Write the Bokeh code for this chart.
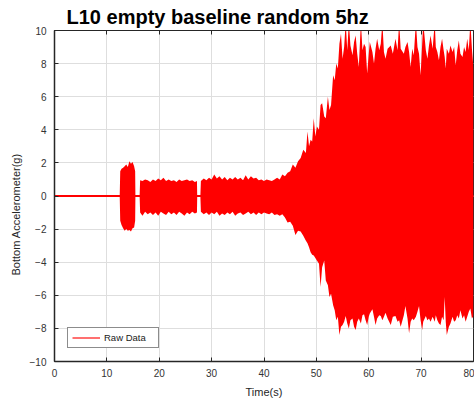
from bokeh.plotting import figure
from bokeh.models import Range1d, LinearAxis, Legend, LegendItem, FixedTicker, CustomJSTickFormatter, Title
from bokeh.embed import file_html
from bokeh.resources import INLINE

# ---- data (envelope of the raw accelerometer record) ----
baseline_t = [0, 80]
baseline_v = [0, 0]

env_t = [12.45, 12.55, 12.8, 13.1, 13.4, 13.7, 14.0, 14.3, 14.6, 14.9, 15.2, 15.4, 15.45,
         16.25, 16.35, 16.8, 17.3, 17.8, 18.3, 18.8, 19.3, 19.8, 20.3, 20.8, 21.3, 21.8, 22.3,
         22.8, 23.3, 23.8, 24.3, 24.8, 25.3, 25.8, 26.3, 26.8, 27.2, 27.25,
         27.85, 27.95, 28.5, 29.0, 29.5, 30.0, 30.5, 31.0, 31.5, 32.0, 32.5, 33.0, 33.5, 34.0,
         34.5, 35.0, 35.5, 36.0, 36.5, 37.0, 37.5, 38.0, 38.5, 39.0, 39.5, 40.0, 40.5, 41.0,
         41.5, 42.0, 42.5, 43.0, 43.5, 44.0, 44.5, 45.0, 45.5, 46.0, 46.5, 47.0, 47.5, 48.0,
         48.3, 48.6, 48.9, 49.2, 49.5, 49.8, 50.1, 50.5, 50.8, 51.1, 51.5, 51.8, 52.2, 52.5,
         52.8, 53.2, 53.5, 53.8, 54.1, 54.4, 54.7, 55.0, 55.3, 55.6, 55.9, 56.2, 56.5, 56.9,
         57.2, 57.5, 57.8, 58.1, 58.5, 58.8, 59.1, 59.4, 59.7, 60.0, 60.2, 60.7, 61.0, 61.3,
         61.6, 62.0, 62.3, 62.6, 62.9, 63.2, 63.6, 64.2, 64.6, 65.1, 65.5, 65.8, 66.1, 66.7,
         67.0, 67.4, 67.7, 68.0, 68.3, 68.6, 69.0, 69.3, 69.6, 69.9, 70.2, 70.4, 70.9, 71.2,
         71.5, 71.8, 72.2, 72.6, 72.8, 73.1, 73.4, 73.7, 74.0, 74.3, 74.5, 74.7, 74.9, 75.3,
         75.6, 76.0, 76.3, 76.6, 76.9, 77.2, 77.5, 77.9, 78.2, 78.5, 78.8, 79.1, 79.4, 79.7, 80.0]

env_upper = [0, 1.5, 1.65, 1.7, 1.8, 1.9, 1.75, 2.1, 1.95, 2.05, 1.8, 1.5, 0,
             0, 0.95, 0.9, 1.0, 0.95, 0.85, 1.0, 0.9, 1.05, 0.95, 1.1, 0.9, 1.0, 0.9,
             0.95, 0.85, 1.0, 0.9, 0.95, 1.0, 0.9, 0.95, 0.85, 0.9, 0,
             0, 0.9, 1.05, 0.95, 1.1, 1.0, 1.3, 1.05, 1.2, 1.0, 1.15, 0.95, 1.1, 1.0,
             1.15, 1.0, 1.1, 0.95, 1.25, 1.0, 1.2, 1.05, 1.1, 0.95, 1.0, 0.9, 1.0, 0.95,
             0.9, 1.0, 1.1, 1.0, 1.3, 1.2, 1.4, 1.5, 1.9, 1.7, 2.1, 2.3, 2.8, 2.6,
             3.9, 3.0, 3.4, 3.3, 4.7, 3.6, 4.2, 4.0, 5.5, 5.6, 4.8, 4.7, 6.0, 5.2,
             5.5, 7.3, 7.0, 8.0, 7.7, 9.2, 9.8, 8.3, 9.0, 10.5, 8.8, 10.5, 9.1, 8.5,
             9.3, 9.7, 8.6, 7.8, 10.5, 8.8, 9.2, 9.0, 7.4, 8.6, 9.3, 8.7, 8.0, 8.9,
             9.5, 8.8, 9.2, 10.5, 8.7, 8.3, 8.9, 9.1, 8.6, 9.5, 8.8, 10.5, 8.9, 8.6,
             9.0, 9.3, 8.7, 7.8, 8.9, 8.5, 10.5, 9.0, 8.6, 7.3, 9.2, 10.5, 8.8, 8.3,
             9.1, 9.7, 8.9, 10.5, 9.0, 8.7, 8.2, 9.0, 9.5, 8.8, 8.4, 7.7, 8.9, 8.6,
             9.1, 8.7, 9.0, 7.9, 8.8, 9.4, 8.6, 8.4, 9.0, 8.7, 9.5, 8.8, 10.5, 8.9, 7.7]

env_lower = [0, -1.5, -1.75, -1.95, -2.1, -2.0, -2.1, -2.05, -2.15, -1.95, -1.9, -1.5, 0,
             0, -1.0, -1.2, -0.95, -1.1, -1.0, -1.15, -1.0, -1.2, -0.95, -1.05, -1.15, -0.95, -1.1,
             -1.0, -1.15, -0.95, -1.05, -1.2, -1.0, -1.1, -0.95, -1.05, -1.0, 0,
             0, -0.95, -1.1, -1.0, -1.15, -1.0, -1.1, -0.95, -1.2, -1.05, -1.15, -1.0, -1.1, -0.95,
             -1.2, -1.05, -1.0, -1.15, -1.05, -0.95, -1.1, -1.0, -1.15, -1.0, -1.1, -1.0, -1.05, -1.1,
             -1.0, -1.15, -1.1, -1.2, -1.1, -1.3, -1.6, -1.55, -1.8, -2.35, -2.1, -2.15, -2.4, -2.7,
             -2.85, -3.1, -3.4, -3.55, -3.6, -3.75, -3.9, -4.1, -5.5, -4.3, -3.9, -5.1, -5.4, -6.1,
             -5.9, -6.6, -6.9, -7.5, -7.3, -8.4, -7.9, -7.8, -7.6, -7.25, -7.7, -8.0, -7.5, -7.4,
             -7.9, -8.1, -7.6, -7.4, -7.7, -7.2, -7.15, -7.5, -7.8, -7.3, -7.1, -6.85, -7.3, -7.8,
             -7.4, -7.2, -7.25, -7.5, -7.3, -7.05, -7.4, -7.8, -7.3, -7.25, -7.6, -7.5, -7.9, -7.2,
             -6.65, -7.4, -8.3, -7.6, -7.4, -7.5, -7.3, -7.0, -6.65, -7.5, -8.1, -7.6, -7.25, -7.5,
             -7.4, -7.6, -7.3, -7.6, -7.2, -7.5, -7.7, -7.8, -7.3, -7.5, -6.1, -7.6, -8.4, -7.9,
             -7.7, -7.3, -7.6, -7.5, -7.2, -7.4, -6.9, -7.4, -7.2, -7.6, -7.3, -7.0, -6.8, -7.4, -7.25]

x_ticks = [0, 10, 20, 30, 40, 50, 60, 70, 80]
y_ticks = [-10, -8, -6, -4, -2, 0, 2, 4, 6, 8, 10]

FONT = "Liberation Sans"
DARK = "#262626"

p = figure(width=474, height=400, output_backend="svg", toolbar_location=None,
           x_range=Range1d(0, 80), y_range=Range1d(-10, 10),
           min_border_left=54, min_border_right=1, min_border_top=0, min_border_bottom=39)

p.title.text = "L10 empty baseline random 5hz"
p.title.text_font = FONT
p.title.text_font_size = "20px"
p.title.text_font_style = "bold"
p.title.text_color = "#000000"
p.title.align = "left"
p.title.offset = 12
p.title.standoff = 6

p.background_fill_color = "white"
p.outline_line_color = DARK
p.outline_line_width = 1

# data
leg_r = p.line(x=baseline_t, y=baseline_v, line_color="#ff7070", line_width=2)
p.varea(x=env_t, y1=env_lower, y2=env_upper, fill_color="#ff0000")
p.line(x=baseline_t, y=baseline_v, line_color="#ff0000", line_width=2)

for ax in p.xaxis:
    ax.ticker = FixedTicker(ticks=x_ticks)
for ax in p.yaxis:
    ax.ticker = FixedTicker(ticks=y_ticks)

for ax in list(p.xaxis) + list(p.yaxis):
    ax.major_tick_in = 4
    ax.major_tick_out = 0
    ax.minor_tick_line_color = None
    ax.major_tick_line_color = DARK
    ax.axis_line_color = DARK
    ax.axis_line_width = 1.5
    ax.major_label_text_font = FONT
    ax.major_label_text_font_size = "10px"
    ax.major_label_text_color = "#333333"
    ax.axis_label_text_font = FONT
    ax.axis_label_text_font_size = "11px"
    ax.axis_label_text_font_style = "normal"
    ax.axis_label_text_color = DARK

p.xaxis.axis_label = "Time(s)"
p.xaxis.major_label_standoff = 7
p.xaxis.axis_label_standoff = 6
p.yaxis.major_label_standoff = 8

# y-axis title, placed like the reference (below the frame's middle)
ytitle = Title(text="Bottom Accelerometer(g)", align="left", offset=86, standoff=10,
               text_font=FONT, text_font_size="11px", text_font_style="normal",
               text_color=DARK)
p.add_layout(ytitle, "left")

blank = CustomJSTickFormatter(code="return ''")
top_ax = LinearAxis(ticker=FixedTicker(ticks=x_ticks), formatter=blank, major_tick_in=4,
                    major_tick_out=0, minor_tick_line_color=None, axis_line_color=DARK,
                    major_tick_line_color=DARK, major_label_standoff=0,
                    major_label_text_font_size="0px")
p.add_layout(top_ax, "above")

p.xgrid.ticker = FixedTicker(ticks=x_ticks)
p.ygrid.ticker = FixedTicker(ticks=y_ticks)
p.grid.grid_line_color = "#dedede"
p.grid.grid_line_width = 1

legend = Legend(items=[LegendItem(label="Raw Data", renderers=[leg_r])],
                location=(13, 13), margin=0, padding=4, spacing=0,
                glyph_width=28, glyph_height=11, label_standoff=4, label_width=50,
                label_height=11, label_text_font=FONT, label_text_font_size="9.5px",
                label_text_color="#1a1a1a", border_line_color="#1a1a1a",
                border_line_width=1, background_fill_color="white", background_fill_alpha=1)
p.add_layout(legend)

open("out.html", "w").write(file_html(p, INLINE))
